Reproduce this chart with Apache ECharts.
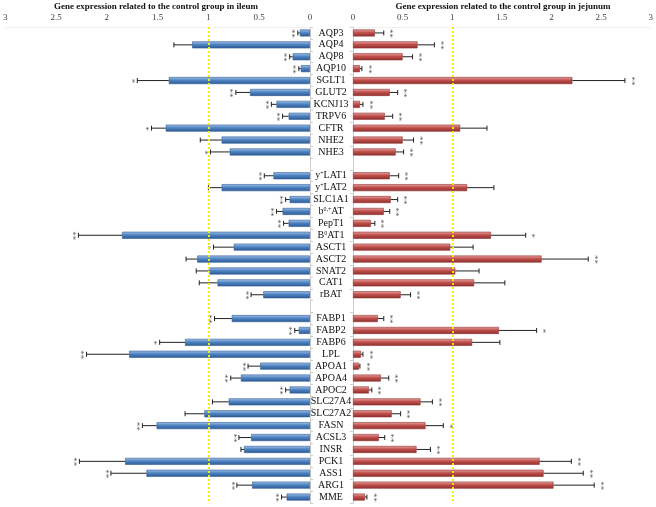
<!DOCTYPE html>
<html><head><meta charset="utf-8">
<script src="https://cdn.jsdelivr.net/npm/echarts@6/dist/echarts.min.js"></script>
<style>html,body{margin:0;padding:0;background:#fff}#c{width:656px;height:507px}</style>
</head><body><div id="c"></div>
<script>
const categories = ['AQP3','AQP4','AQP8','AQP10','SGLT1','GLUT2','KCNJ13','TRPV6','CFTR','NHE2','NHE3','',
  'y\u207ALAT1','y\u207ALAT2','SLC1A1','b\u2070,\u207AAT','PepT1','B\u2070AT1','ASCT1','ASCT2','SNAT2','CAT1','rBAT','',
  'FABP1','FABP2','FABP6','LPL','APOA1','APOA4','APOC2','SLC27A4','SLC27A2','FASN','ACSL3','INSR','PCK1','ASS1','ARG1','MME'];
const ileumMean = [0.10,1.16,0.17,0.09,1.39,0.59,0.33,0.21,1.42,0.87,0.79,null,
  0.36,0.87,0.20,0.27,0.21,1.85,0.75,1.11,0.99,0.91,0.46,null,
  0.77,0.11,1.23,1.78,0.49,0.68,0.20,0.80,1.04,1.51,0.58,0.65,1.82,1.61,0.57,0.23];
const ileumUpper = [0.12,1.34,0.20,0.11,1.70,0.73,0.38,0.27,1.56,1.08,0.98,null,
  0.45,1.00,0.24,0.33,0.26,2.28,0.95,1.22,1.12,1.09,0.58,null,
  0.94,0.15,1.48,2.20,0.61,0.78,0.24,0.96,1.23,1.65,0.70,0.68,2.27,1.96,0.72,0.28];
const ileumSig = ['**','','**','**','*','**','**','**','*','','*','',
  '**','','**','**','**','**','*','','','','**','',
  '**','**','*','**','**','**','**','','','**','**','','**','**','**','**'];
const jejunumMean = [0.22,0.65,0.50,0.07,2.21,0.37,0.07,0.32,1.08,0.50,0.43,null,
  0.37,1.15,0.38,0.31,0.18,1.39,0.98,1.90,1.03,1.22,0.48,null,
  0.25,1.47,1.20,0.08,0.06,0.28,0.16,0.68,0.39,0.73,0.26,0.64,1.88,1.92,2.02,0.12];
const jejunumUpper = [0.31,0.82,0.60,0.09,2.74,0.45,0.10,0.40,1.35,0.61,0.51,null,
  0.46,1.42,0.45,0.37,0.22,1.74,1.21,2.37,1.27,1.53,0.58,null,
  0.31,1.85,1.48,0.10,0.07,0.36,0.19,0.80,0.48,0.91,0.32,0.78,2.20,2.32,2.43,0.14];
const jejunumSig = ['**','**','**','**','**','**','**','**','','**','**','',
  '**','','**','**','**','*','','**','','','**','',
  '**','*','','**','**','**','**','**','**','*','**','**','**','**','**','**'];
const tickValues = ['0','0.5','1','1.5','2','2.5','3'];

const serif = '"Liberation Serif", "DejaVu Serif", serif';
const chart = echarts.init(document.getElementById('c'), null, {renderer:'canvas'});

function errData(mean, upper, sig){
  const out = [];
  for (let i=0;i<mean.length;i++){
    if (mean[i] == null) continue;
    out.push([i, mean[i], upper[i], sig[i]]);
  }
  return out;
}
function errRender(dir){
  return function(params, api){
    const i = api.value(0);
    const p0 = api.coord([api.value(1), i]);
    const p1 = api.coord([api.value(2), i]);
    const sig = api.value(3);
    const children = [
      {type:'line', shape:{x1:p0[0], y1:p0[1], x2:p1[0], y2:p1[1]}, style:{stroke:'#222', lineWidth:1}},
      {type:'line', shape:{x1:p1[0], y1:p1[1]-2.5, x2:p1[0], y2:p1[1]+2.5}, style:{stroke:'#222', lineWidth:1}}
    ];
    if (sig){
      children.push({type:'text', x:p1[0] + dir*6, y:p1[1]+0.5, rotation:-Math.PI/2,
        style:{text:sig, fill:'#555', font:'9px ' + serif, align:'center', verticalAlign:'middle'}});
    }
    return {type:'group', children};
  };
}
function barGrad(light, mid, dark){
  return new echarts.graphic.LinearGradient(0,0,0,1,[
    {offset:0, color:light},{offset:0.45, color:mid},{offset:1, color:dark}]);
}
// Render superscript marks in category labels as small raised rich text
function labelFormatter(v){
  const sup = {'\u207A':'+','\u2070':'0'};
  let out = '', buf = '', inSup = false;
  for (const ch of v){
    const isSup = (ch in sup) || (ch === ',' && inSup);
    if (isSup !== inSup){
      if (buf) out += inSup ? '{s|' + buf + '}' : '{n|' + buf + '}';
      buf = ''; inSup = isSup;
    }
    buf += (ch in sup) ? sup[ch] : ch;
  }
  if (buf) out += inSup ? '{s|' + buf + '}' : '{n|' + buf + '}';
  return out;
}
const yellowLine = {
  silent:true, symbol:['none','none'], label:{show:false},
  lineStyle:{color:'#f5ee00', type:[2,2], width:2},
  data:[{xAxis:1}]
};
const xAxisCommon = {
  type:'value', min:0, max:3, interval:0.5, position:'top',
  axisLine:{show:true, lineStyle:{color:'#f0f0f0'}},
  axisTick:{show:false}, splitLine:{show:false},
  axisLabel:{color:'#444', fontFamily:serif, fontSize:9, margin:5,
    formatter: v => tickValues[Math.round(v*2)]}
};
const yAxisCommon = {
  type:'category', data:categories, inverse:true,
  axisLine:{show:true, lineStyle:{color:'#cfcfcf'}},
  axisTick:{show:true, length:3, lineStyle:{color:'#cfcfcf'}},
  splitLine:{show:false}
};

chart.setOption({
  animation:false,
  backgroundColor:'#fff',
  title:[
    {text:'Gene expression related to the control group in ileum', left:156, top:2, padding:0, textAlign:'center',
      textStyle:{fontFamily:serif, fontWeight:'bold', fontSize:9, color:'#111'}},
    {text:'Gene expression related to the control group in jejunum', left:503, top:2, padding:0, textAlign:'center',
      textStyle:{fontFamily:serif, fontWeight:'bold', fontSize:9, color:'#111'}}
  ],
  grid:[
    {left:3, width:307, top:27, height:476},
    {left:353, width:300, top:27, height:476}
  ],
  xAxis:[
    Object.assign({gridIndex:0, inverse:true}, xAxisCommon),
    Object.assign({gridIndex:1}, xAxisCommon)
  ],
  yAxis:[
    Object.assign({gridIndex:0, position:'right',
      axisLabel:{show:true, color:'#111', fontFamily:serif, fontSize:10, align:'center', margin:21, interval:0,
        formatter: labelFormatter,
        rich:{n:{fontFamily:serif, fontSize:10, color:'#111'},
              s:{fontFamily:serif, fontSize:6, color:'#111', verticalAlign:'top', padding:[0,0,4,0]}}}}, yAxisCommon),
    Object.assign({gridIndex:1, position:'left', axisLabel:{show:false}}, yAxisCommon)
  ],
  series:[
    {type:'bar', xAxisIndex:0, yAxisIndex:0, data:ileumMean, barWidth:7,
      itemStyle:{color:barGrad('#a9c6ec','#4f84c2','#2d5a94'), borderColor:'#2d5a94', borderWidth:0.6},
      markLine:yellowLine, z:2},
    {type:'bar', xAxisIndex:1, yAxisIndex:1, data:jejunumMean, barWidth:7,
      itemStyle:{color:barGrad('#eba9a7','#c0504d','#8e2f2c'), borderColor:'#8e2f2c', borderWidth:0.6},
      markLine:yellowLine, z:2},
    {type:'custom', xAxisIndex:0, yAxisIndex:0, data:errData(ileumMean, ileumUpper, ileumSig),
      renderItem:errRender(-1), z:3, encode:{x:[1,2], y:0}},
    {type:'custom', xAxisIndex:1, yAxisIndex:1, data:errData(jejunumMean, jejunumUpper, jejunumSig),
      renderItem:errRender(1), z:3, encode:{x:[1,2], y:0}}
  ]
});
</script></body></html>
